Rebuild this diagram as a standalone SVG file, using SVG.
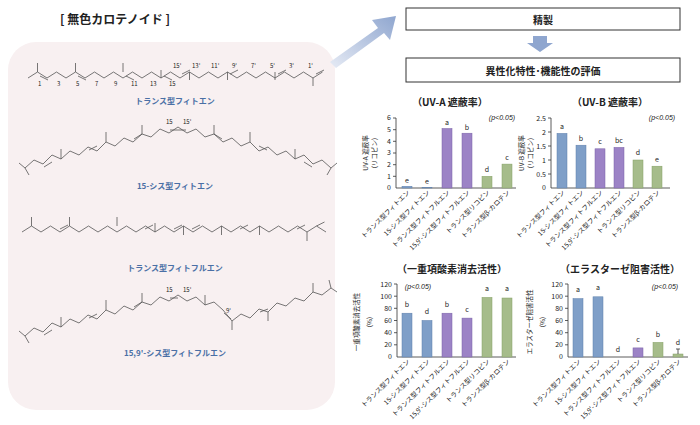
<svg xmlns="http://www.w3.org/2000/svg" xmlns:xlink="http://www.w3.org/1999/xlink" width="700" height="425" viewBox="0 0 700 425">
<defs>
<linearGradient id="ag" x1="0" y1="1" x2="1" y2="0"><stop offset="0" stop-color="#e6ebf5"/><stop offset="1" stop-color="#8fa6cf"/></linearGradient>
</defs>
<style>
text{font-family:"Noto Sans CJK JP","Liberation Sans",sans-serif;fill:#222}
.m{fill:none;stroke:#555;stroke-width:0.8;stroke-linejoin:round}
.n{font-family:"Liberation Sans",sans-serif;font-size:6px;fill:#333}
.cap{font-size:8px;font-weight:bold;fill:#4a6fa5;text-anchor:middle}
.ttl{font-size:10px;font-weight:bold;text-anchor:middle}
.ax{stroke:#333;stroke-width:0.8;fill:none}
.tk{font-family:"Liberation Sans",sans-serif;font-size:7px;text-anchor:end}
.lt{font-family:"Liberation Sans",sans-serif;font-size:7px;text-anchor:middle}
.xl{font-size:6.5px;text-anchor:end}
.yl{font-size:6.5px;text-anchor:middle}
.bl{fill:#7f9fc8;stroke:#5d7fab;stroke-width:0.5}
.pu{fill:#9c83c6;stroke:#7a62a6;stroke-width:0.5}
.gr{fill:#a6bc8b;stroke:#84a064;stroke-width:0.5}
.box{fill:#fff;stroke:#333;stroke-width:1}
</style>
<rect x="8" y="42" width="327" height="368" rx="28" fill="#f8f0f1"/>
<text x="115" y="24" font-size="12" font-weight="bold" text-anchor="middle">[ 無色カロテノイド ]</text>
<polygon points="330,62 378,28 372,20 396,16 390,40 384,33 336,68" fill="url(#ag)"/>
<g id="n-purify"><rect class="box" x="406" y="8" width="274" height="22"/><text x="543" y="24" class="ttl" font-size="11">精製</text></g>
<polygon points="533,36 547,36 547,43 553,43 540,52 527,43 533,43" fill="#8fa6cf"/>
<g id="n-eval"><rect class="box" x="406" y="58" width="274" height="24"/><text x="543" y="75" class="ttl" font-size="11">異性化特性･機能性の評価</text></g>

<g id="mol1">
<polyline class="m" points="28,78 37.5,72 47,78 56.5,72 66,78 75.5,72 85,78 94.5,72 104,78 113.5,72 123,78 132.5,72 142,78 151.5,72 161,78 170.5,72 180,78 189.5,72 199,78 208.5,72 218,78 227.5,72 237,78 246.5,72 256,78 265.5,72 275,78 284.5,72 294,78 303.5,72 313,78 322.5,72"/>
<path class="m" d="M37.5,72V63M75.5,72V63M123,72V63M161,78V70M189.5,72V80M227.5,72V80M275,72V80M313,78V86M40,76l8,4M78,76l8,4M126,76l8,4M164,76l8,4M182,74l8,-4M230,74l8,-4M278,74l8,-4M316,74l8,-4"/>
<g class="n"><text x="38" y="86">1</text><text x="57" y="86">3</text><text x="76" y="86">5</text><text x="95" y="86">7</text><text x="114" y="86">9</text><text x="131" y="86">11</text><text x="150" y="86">13</text><text x="169" y="86">15</text><text x="173" y="68">15'</text><text x="192" y="68">13'</text><text x="211" y="68">11'</text><text x="232" y="68">9'</text><text x="251" y="68">7'</text><text x="270" y="68">5'</text><text x="289" y="68">3'</text><text x="308" y="68">1'</text></g>
<text class="cap" x="175" y="104">トランス型フィトエン</text>
</g>

<g id="mol2">
<g id="half">
<polyline class="m" points="25,168 34,160 43,164 52,155 61,159 70,151 79,155 88,147 97,151 106,142 115,146 124,138 133,142 142,134 151,137 160,129 169,133 178,127"/>
<path class="m" d="M25,168l-6,-5M25,168l4,7M61,159v-10M106,142v-10M142,134v-9M44,167l8,-5M89,150l8,-4M134,139l8,-5M170,130l8,0"/>
</g>
<use xlink:href="#half" transform="translate(356,0) scale(-1,1)"/>
<g class="n"><text x="166" y="124">15</text><text x="183" y="124">15'</text></g>
<text class="cap" x="175" y="189">15-シス型フィトエン</text>
</g>

<g id="mol3">
<polyline class="m" points="22,232 31.5,226 41,232 50.5,226 60,232 69.5,226 79,232 88.5,226 98,232 107.5,226 117,232 126.5,226 136,232 145.5,226 155,232 164.5,226 174,232 183.5,226 193,232 202.5,226 212,232 221.5,226 231,232 240.5,226 250,232 259.5,226 269,232 278.5,226 288,232 297.5,226 307,232 316.5,226 326,232"/>
<path class="m" d="M31.5,226V217M69.5,226V217M117,226V217M155,232V223M183.5,226V235M221.5,226V235M259.5,226V235M307,232V241M60,229l8,-4M145,229l8,-4M174,229l8,-4M192,229l8,-4M240,229l8,-4M297,229l8,-4M316.5,226l8,-4"/>
<text class="cap" x="175" y="271">トランス型フィトフルエン</text>
</g>

<g id="mol4">
<g transform="translate(0,168)">
<polyline class="m" points="25,168 34,160 43,164 52,155 61,159 70,151 79,155 88,147 97,151 106,142 115,146 124,138 133,142 142,134 151,137 160,129 169,133 178,127 187,133 196,129 205,137 214,134 223,142"/>
<path class="m" d="M25,168l-6,-5M25,168l4,7M61,159v-10M106,142v-10M142,134v-9M44,167l8,-5M89,150l8,-4M134,139l8,-5M170,130l8,0M205,137v-10"/>
</g>
<polyline class="m" points="223,310 232,321 241,314 250,318 259,309 268,312 277,303 286,306 295,298 304,301 313,292 322,295 331,288"/>
<path class="m" d="M232,321v9M268,312v9M313,292v-9M331,288l-2,-8M331,288l6,4M224,313l7,6M260,312l8,-3"/>
<g class="n"><text x="166" y="292">15</text><text x="183" y="292">15'</text><text x="226" y="313">9'</text></g>
<text class="cap" x="175" y="356">15,9'-シス型フィトフルエン</text>
</g>

<g id="chart-uva">
<text class="ttl" x="450" y="106">（UV-A 遮蔽率）</text>
<text class="lt" x="502" y="120" font-style="italic">(p&lt;0.05)</text>
<path class="ax" d="M396,118V188H516M393,118h3M393,129.7h3M393,141.3h3M393,153h3M393,164.7h3M393,176.3h3"/>
<g class="tk"><text x="391" y="190">0</text><text x="391" y="178.5">1</text><text x="391" y="167">2</text><text x="391" y="155">3</text><text x="391" y="143.5">4</text><text x="391" y="132">5</text><text x="391" y="120">6</text></g>
<text class="yl" transform="translate(368,153) rotate(-90)">UV-A 遮蔽率</text>
<text class="yl" transform="translate(377,153) rotate(-90)">(リコピン)</text>
<rect class="bl" x="402" y="186.3" width="10" height="1.7"/><rect class="bl" x="422" y="187.4" width="10" height="0.6"/><rect class="pu" x="442" y="128.5" width="10" height="59.5"/><rect class="pu" x="462" y="133.2" width="10" height="54.8"/><rect class="gr" x="482" y="176.3" width="10" height="11.7"/><rect class="gr" x="502" y="164.1" width="10" height="23.9"/>
<g class="lt"><text x="407" y="183">e</text><text x="427" y="184">e</text><text x="447" y="125">a</text><text x="467" y="130">b</text><text x="487" y="172">d</text><text x="507" y="160">c</text></g>
</g>

<g id="chart-uvb">
<text class="ttl" x="610" y="106">（UV-B 遮蔽率）</text>
<text class="lt" x="662" y="120" font-style="italic">(p&lt;0.05)</text>
<path class="ax" d="M551,118V188H670M548,118h3M548,132h3M548,146h3M548,160h3M548,174h3"/>
<g class="tk"><text x="546" y="190">0</text><text x="546" y="176.5">0.5</text><text x="546" y="162.5">1</text><text x="546" y="148.5">1.5</text><text x="546" y="134.5">2</text><text x="546" y="120.5">2.5</text></g>
<text class="yl" transform="translate(524,153) rotate(-90)">UV-B 遮蔽率</text>
<text class="yl" transform="translate(533,153) rotate(-90)">(リコピン)</text>
<rect class="bl" x="557" y="133.4" width="10" height="54.6"/><rect class="bl" x="576" y="145.2" width="10" height="42.8"/><rect class="pu" x="595" y="148.8" width="10" height="39.2"/><rect class="pu" x="614" y="147.4" width="10" height="40.6"/><rect class="gr" x="633" y="160" width="10" height="28"/><rect class="gr" x="652" y="166.2" width="10" height="21.8"/>
<g class="lt"><text x="562" y="129">a</text><text x="581" y="141">b</text><text x="600" y="144">c</text><text x="619" y="143">bc</text><text x="638" y="155">d</text><text x="657" y="162">e</text></g>
</g>

<g id="chart-so">
<text class="ttl" x="452" y="273">（一重項酸素消去活性）</text>
<text class="lt" x="418" y="289" font-style="italic">(p&lt;0.05)</text>
<path class="ax" d="M397,284V357H516M394,284h3M394,296.2h3M394,308.3h3M394,320.5h3M394,332.7h3M394,344.8h3"/>
<g class="tk"><text x="392" y="359">0</text><text x="392" y="347">20</text><text x="392" y="335">40</text><text x="392" y="323">60</text><text x="392" y="310.5">80</text><text x="392" y="298.5">100</text><text x="392" y="286.5">120</text></g>
<text class="yl" transform="translate(359,322) rotate(-90)">一重項酸素消去活性</text>
<text class="yl" transform="translate(372,322) rotate(-90)">(%)</text>
<rect class="bl" x="402" y="313.2" width="10" height="43.8"/><rect class="bl" x="422" y="320.5" width="10" height="36.5"/><rect class="pu" x="442" y="313.2" width="10" height="43.8"/><rect class="pu" x="462" y="318.1" width="10" height="38.9"/><rect class="gr" x="482" y="297.4" width="10" height="59.6"/><rect class="gr" x="502" y="298" width="10" height="59"/>
<g class="lt"><text x="407" y="307">b</text><text x="427" y="314">d</text><text x="447" y="307">b</text><text x="467" y="312">c</text><text x="487" y="291">a</text><text x="507" y="291">a</text></g>
</g>

<g id="chart-el">
<text class="ttl" x="620" y="273">（エラスターゼ阻害活性）</text>
<text class="lt" x="665" y="289" font-style="italic">(p&lt;0.05)</text>
<path class="ax" d="M568,284V357H688M565,284h3M565,296.2h3M565,308.3h3M565,320.5h3M565,332.7h3M565,344.8h3"/>
<g class="tk"><text x="563" y="359">0</text><text x="563" y="347">20</text><text x="563" y="335">40</text><text x="563" y="323">60</text><text x="563" y="310.5">80</text><text x="563" y="298.5">100</text><text x="563" y="286.5">120</text></g>
<text class="yl" transform="translate(532,322) rotate(-90)">エラスターゼ阻害活性</text>
<text class="yl" transform="translate(545,322) rotate(-90)">(%)</text>
<rect class="bl" x="573" y="298.6" width="10" height="58.4"/><rect class="bl" x="593" y="296.8" width="10" height="60.2"/><rect class="pu" x="633" y="347.9" width="10" height="9.1"/><rect class="gr" x="653" y="342.4" width="10" height="14.6"/><rect class="gr" x="673" y="354" width="10" height="3"/>
<path class="ax" d="M678,354v-5m-2,0h4"/>
<g class="lt"><text x="578" y="292">a</text><text x="598" y="290">a</text><text x="618" y="352">d</text><text x="638" y="342">c</text><text x="658" y="337">b</text><text x="678" y="345">d</text></g>
</g>

<g id="xlabels">
<g class="xl">
<text transform="translate(410,193) rotate(-45)">トランス型フィトエン</text><text transform="translate(430,193) rotate(-45)">15-シス型フィトエン</text><text transform="translate(450,193) rotate(-45)">トランス型フィトフルエン</text><text transform="translate(470,193) rotate(-45)">15,9'-シス型フィトフルエン</text><text transform="translate(490,193) rotate(-45)">トランス型リコピン</text><text transform="translate(510,193) rotate(-45)">トランス型β-カロテン</text>
<text transform="translate(565,193) rotate(-45)">トランス型フィトエン</text><text transform="translate(584,193) rotate(-45)">15-シス型フィトエン</text><text transform="translate(603,193) rotate(-45)">トランス型フィトフルエン</text><text transform="translate(622,193) rotate(-45)">15,9'-シス型フィトフルエン</text><text transform="translate(641,193) rotate(-45)">トランス型リコピン</text><text transform="translate(660,193) rotate(-45)">トランス型β-カロテン</text>
<text transform="translate(410,362) rotate(-45)">トランス型フィトエン</text><text transform="translate(430,362) rotate(-45)">15-シス型フィトエン</text><text transform="translate(450,362) rotate(-45)">トランス型フィトフルエン</text><text transform="translate(470,362) rotate(-45)">15,9'-シス型フィトフルエン</text><text transform="translate(490,362) rotate(-45)">トランス型リコピン</text><text transform="translate(510,362) rotate(-45)">トランス型β-カロテン</text>
<text transform="translate(581,362) rotate(-45)">トランス型フィトエン</text><text transform="translate(601,362) rotate(-45)">15-シス型フィトエン</text><text transform="translate(621,362) rotate(-45)">トランス型フィトフルエン</text><text transform="translate(641,362) rotate(-45)">15,9'-シス型フィトフルエン</text><text transform="translate(661,362) rotate(-45)">トランス型リコピン</text><text transform="translate(681,362) rotate(-45)">トランス型β-カロテン</text>
</g>
</g>
</svg>
